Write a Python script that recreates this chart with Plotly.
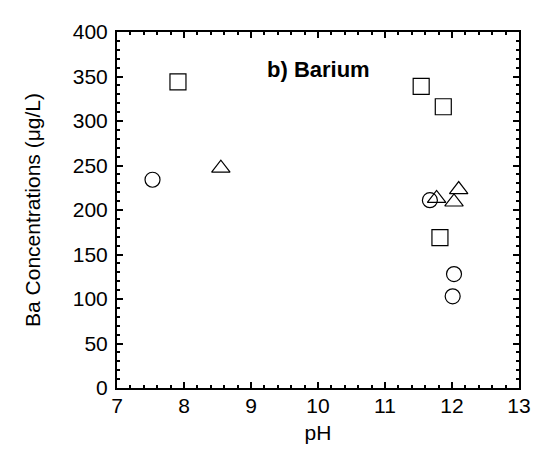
import plotly.graph_objects as go

# Data
sq_x = [7.91, 11.54, 11.87, 11.82]
sq_y = [344, 339, 316, 169]
ci_x = [7.53, 11.67, 12.03, 12.01]
ci_y = [234, 211, 128, 103]
tr_x = [8.55, 11.77, 12.10, 12.03]
tr_y = [247, 213, 223, 209]

x_ticks = [7, 8, 9, 10, 11, 12, 13]
y_ticks = [0, 50, 100, 150, 200, 250, 300, 350, 400]

FONT = "Liberation Sans, Arial, sans-serif"
FS = 21

fig = go.Figure()
fig.add_trace(go.Scatter(x=sq_x, y=sq_y, mode="markers",
                         marker=dict(symbol="square-open", size=16, color="black", line=dict(width=1.2))))
fig.add_trace(go.Scatter(x=ci_x, y=ci_y, mode="markers",
                         marker=dict(symbol="circle-open", size=15, color="black", line=dict(width=1.2))))
fig.add_trace(go.Scatter(x=tr_x, y=tr_y, mode="markers",
                         marker=dict(symbol="triangle-up-open", size=16, color="black", line=dict(width=1.2))))

fig.add_annotation(x=10.0, y=358, xref="x", yref="y", text="<b>b) Barium</b>",
                   showarrow=False, font=dict(family=FONT, size=22, color="black"))

axis_common = dict(showline=True, linecolor="black", linewidth=2, mirror="allticks",
                   ticks="inside", ticklen=6, tickwidth=2, tickcolor="black",
                   showgrid=False, zeroline=False,
                   tickfont=dict(family=FONT, size=FS, color="black"))

fig.update_xaxes(range=[7, 13], tickvals=x_ticks,
                 title=dict(text="pH", font=dict(family=FONT, size=FS, color="black"), standoff=9),
                 minor=dict(ticks="inside", dtick=0.2, ticklen=3, tickwidth=1.5, tickcolor="black"),
                 ticklabelstandoff=-2,
                 **axis_common)
fig.update_yaxes(range=[0, 400], tickvals=y_ticks,
                 title=dict(text="Ba Concentrations (μg/L)", font=dict(family=FONT, size=FS, color="black"), standoff=26),
                 minor=dict(ticks="inside", dtick=10, ticklen=3, tickwidth=1.5, tickcolor="black"),
                 ticklabelstandoff=3,
                 **axis_common)

# page body has an 8px margin, so the figure is offset by 8px
fig.update_layout(width=535, height=446, margin=dict(l=109, r=17, t=14, b=66),
                  plot_bgcolor="white", paper_bgcolor="white", showlegend=False)

fig.write_html("out.html")
